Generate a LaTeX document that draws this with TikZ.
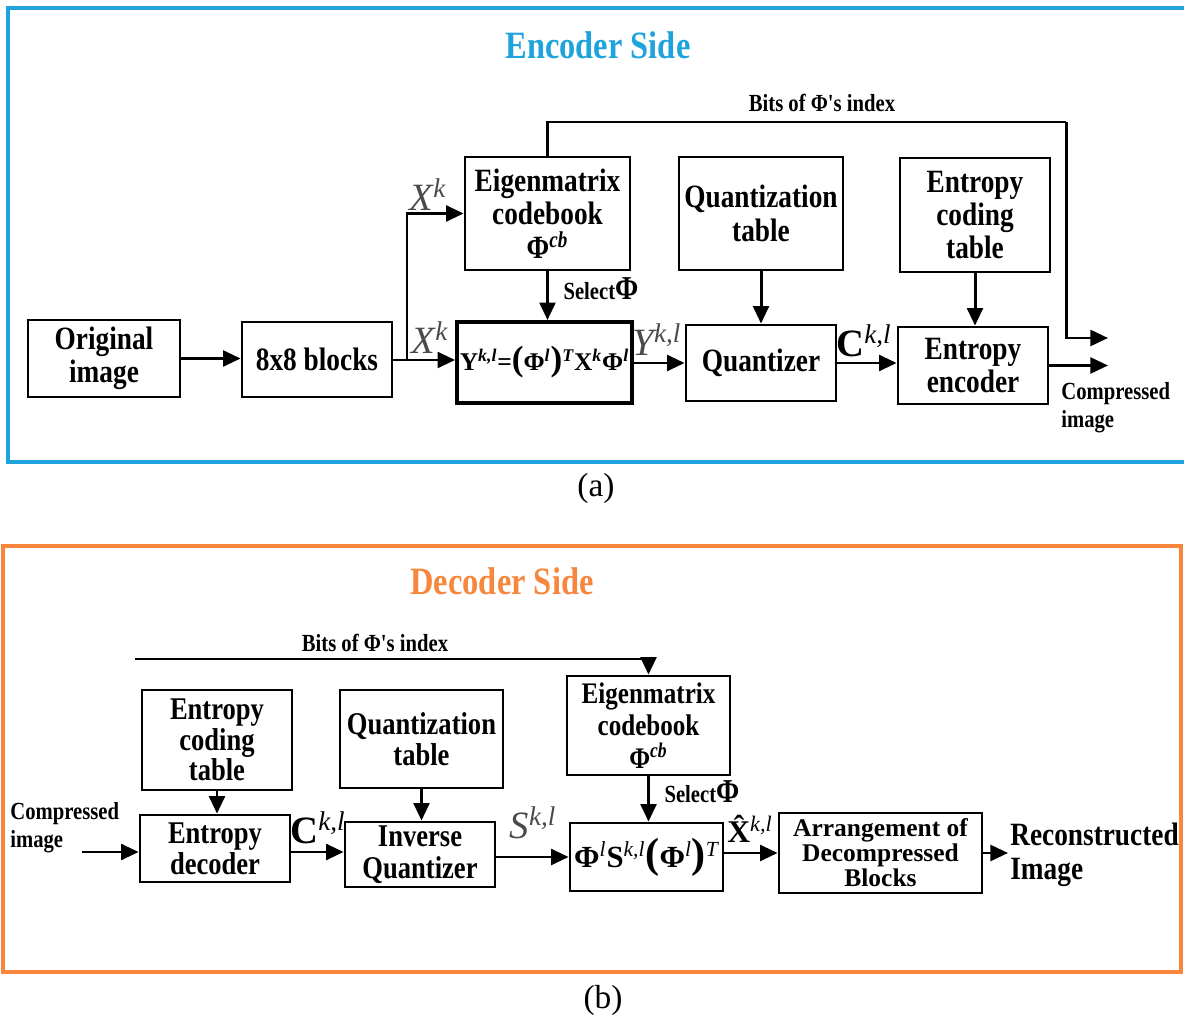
\documentclass[tikz,border=0pt]{standalone}
\usepackage{fontspec}
\setmainfont{Liberation Serif}
\newfontfamily\cond{Liberation Serif}[FakeStretch=0.84]
\usetikzlibrary{arrows.meta,positioning}
\definecolor{EncBlue}{HTML}{1EA3DC}
\definecolor{DecOrange}{HTML}{F7873D}
\definecolor{LabGray}{HTML}{4A4A4A}
\newcommand{\up}[1]{\textsuperscript{\itshape #1}}
\tikzset{
  blk/.style={draw, line width=1.6pt, align=center, inner sep=0pt,
    font=\cond\bfseries\fontsize{18.5}{19}\selectfont},
  conn/.style={line width=1.7pt, -{Triangle[length=10pt,width=9pt]}},
  lab/.style={font=\cond\bfseries\fontsize{14}{14}\selectfont, inner sep=0pt},
  sym/.style={font=\fontsize{22}{22}\selectfont, text=LabGray, inner sep=0pt},
}
\begin{document}
\begin{tikzpicture}[x=0.02cm,y=-0.02cm]
  \useasboundingbox (0,0) rectangle (1184,1016);
  \fill[white] (0,0) rectangle (1184,1016);

  % encoder side
  \draw[EncBlue, line width=2pt] (8,8) rectangle (1190,462);
  \node[font=\cond\bfseries\fontsize{22}{22}\selectfont, text=EncBlue] (enctitle) at (598,45) {Encoder Side};

  \node[blk, minimum width=3.04cm, minimum height=1.54cm] (orig) at (104,358.5) {Original\\image};
  \node[blk, minimum width=3.0cm, minimum height=1.5cm] (blks) at (317,359.5) {8x8 blocks};
  \node[blk, minimum width=3.3cm, minimum height=2.26cm] (eig) at (547.5,213.5) {Eigenmatrix\\codebook\\Φ\up{cb}};
  \node[blk, line width=2.2pt, minimum width=3.5cm, minimum height=1.62cm,
    font=\bfseries\fontsize{14.5}{15}\selectfont] (form) at (544.5,362.5)
    {Y\up{k,l}={\fontsize{20}{20}\selectfont(}Φ\up{l}{\fontsize{20}{20}\selectfont)}\up{T}X\up{k}Φ\up{l}};
  \node[blk, minimum width=3.28cm, minimum height=2.26cm] (qtab) at (761,213.5) {Quantization\\table};
  \node[blk, minimum width=3.0cm, minimum height=1.52cm] (quan) at (761,363) {Quantizer};
  \node[blk, minimum width=3.0cm, minimum height=2.28cm] (etab) at (975,215) {Entropy\\coding\\table};
  \node[blk, minimum width=3.0cm, minimum height=1.54cm] (enc) at (973,365.5) {Entropy\\encoder};

  \coordinate (br) at (407,360);
  \coordinate (btop) at (1066,122);
  \coordinate (bout) at (1108,338);
  \coordinate (cout) at (1108,367);

  \draw[conn] (orig.east) -- (orig.east -| blks.west);
  \draw[line width=1.7pt] (blks.east |- br) -- (br);
  \draw[conn] (br) -- (br -| form.west);
  \draw[conn] (br) |- (eig.west);
  \draw[conn] (eig.south) -- (eig.south |- form.north);
  \draw[line width=1.7pt] (eig.north) |- (btop);
  \draw[conn] (btop) |- (bout);
  \draw[conn] (form.east |- quan.west) -- (quan.west);
  \draw[conn] (qtab.south) -- (qtab.south |- quan.north);
  \draw[conn] (quan.east) -- (quan.east -| enc.west);
  \draw[conn] (etab.south) -- (etab.south |- enc.north);
  \draw[conn] (enc.east) -- (enc.east -| cout);

  \node[lab] (ebits) at (822,103) {Bits of Φ's index};
  \node[lab] (esel) at (601,289) {Select{\fontsize{19}{19}\selectfont Φ}};
  \node[sym] (xk1) at (428,195) {\itshape X\up{k}};
  \node[sym] (xk2) at (430,338) {\itshape X\up{k}};
  \node[sym] (ykl) at (657,340) {\itshape Y\up{k,l}};
  \node[sym, text=black] (ckl) at (864,341) {\bfseries C\up{\mdseries k,l}};
  \node[lab, align=left, anchor=north west] (ecomp) at (1061,382) {Compressed\\[2pt]image};

  \node[font=\fontsize{19}{19}\selectfont] (capa) at (596,488) {(a)};

  % decoder side
  \draw[DecOrange, line width=2pt] (3,546) rectangle (1181,972);
  \node[font=\cond\bfseries\fontsize{22}{22}\selectfont, text=DecOrange] (dectitle) at (502,581) {Decoder Side};

  \node[blk, font=\cond\bfseries\fontsize{18}{17.5}\selectfont, minimum width=3.0cm, minimum height=2.0cm] (detab) at (217,740) {Entropy\\coding\\table};
  \node[blk, font=\cond\bfseries\fontsize{18}{17.5}\selectfont, minimum width=3.0cm, minimum height=1.34cm] (dec) at (215,848.5) {Entropy\\decoder};
  \node[blk, font=\cond\bfseries\fontsize{18}{18}\selectfont, minimum width=3.26cm, minimum height=1.96cm] (dqtab) at (421.5,739) {Quantization\\table};
  \node[blk, font=\cond\bfseries\fontsize{18}{18}\selectfont, minimum width=3.0cm, minimum height=1.3cm] (iq) at (420,854.5) {Inverse\\Quantizer};
  \node[blk, font=\cond\bfseries\fontsize{17}{18.5}\selectfont, minimum width=3.26cm, minimum height=1.98cm] (deig) at (648.5,725.5) {Eigenmatrix\\codebook\\Φ\up{cb}};
  \node[blk, minimum width=3.06cm, minimum height=1.36cm,
    font=\bfseries\fontsize{17.5}{17.5}\selectfont] (dform) at (646.5,857)
    {Φ\up{\mdseries l}S\up{\mdseries k,l}{\fontsize{24}{24}\selectfont(}Φ\up{\mdseries l}{\fontsize{24}{24}\selectfont)}\up{\mdseries T}};
  \node[blk, font=\bfseries\fontsize{14.5}{13}\selectfont, minimum width=4.06cm, minimum height=1.6cm] (arr) at (880.5,853) {Arrangement of\\Decompressed\\Blocks};

  \coordinate (bl) at (135,659);
  \coordinate (cin) at (82,852);
  \coordinate (rout) at (1008,853);

  \draw[conn] (bl) -| (deig.north);
  \draw[conn] (cin) -- (cin -| dec.west);
  \draw[conn] (detab.south) -- (detab.south |- dec.north);
  \draw[conn] (dec.east |- cin) -- (cin -| iq.west);
  \draw[conn] (dqtab.south) -- (dqtab.south |- iq.north);
  \draw[conn] (iq.east |- dform.west) -- (dform.west);
  \draw[conn] (deig.south) -- (deig.south |- dform.north);
  \draw[conn] (dform.east |- arr.west) -- (arr.west);
  \draw[conn] (arr.east |- rout) -- (rout);

  \node[lab] (dbits) at (375,643) {Bits of Φ's index};
  \node[lab] (dsel) at (702,792) {Select{\fontsize{19}{19}\selectfont Φ}};
  \node[lab, align=left, anchor=west] (dcomp) at (10,828) {Compressed\\[2pt]image};
  \node[sym, text=black] (dckl) at (318,828) {\bfseries C\up{\mdseries k,l}};
  \node[sym] (skl) at (533,823) {\itshape S\up{k,l}};
  \node[sym, text=black, font=\fontsize{18}{18}\selectfont] (xhat) at (750,829) {\bfseries \^{X}\up{\mdseries k,l}};
  \node[font=\cond\bfseries\fontsize{18.5}{19}\selectfont, align=left, anchor=west, inner sep=0pt] (recon) at (1010,855) {Reconstructed\\Image};

  \node[font=\fontsize{19}{19}\selectfont] (capb) at (603,1000) {(b)};
\end{tikzpicture}
\end{document}
